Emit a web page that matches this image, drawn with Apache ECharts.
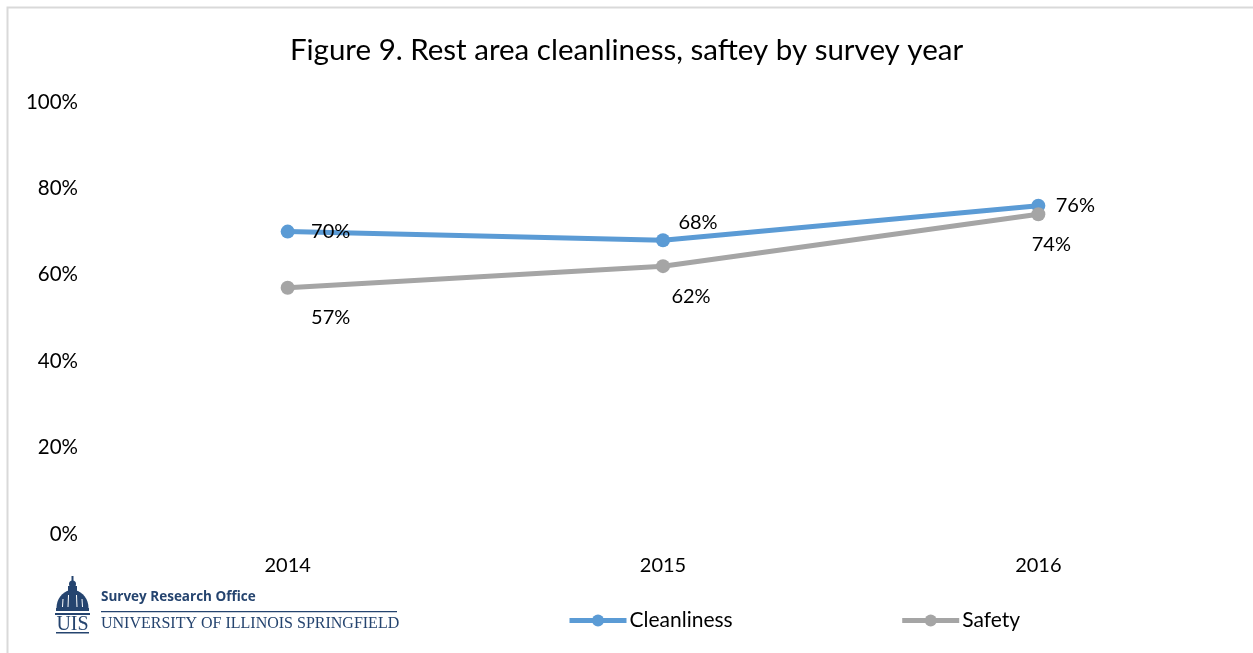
<!DOCTYPE html>
<html>
<head>
<meta charset="utf-8">
<script src="https://cdn.jsdelivr.net/npm/echarts@6/dist/echarts.min.js"></script>
<style>
  html, body { margin: 0; padding: 0; background: #fff; }
  #chart { width: 1253px; height: 653px; }
</style>
</head>
<body>
<div id="chart"></div>
<script>
// Survey years and share of respondents rating each aspect positively (%)
const years = ['2014', '2015', '2016'];
const cleanliness = [70, 68, 76];
const safety = [57, 62, 74];
const yTicks = [0, 20, 40, 60, 80, 100];

// Label placement relative to each marker: [dx, dy]
const cleanLabelOffset = [[43, 0], [35, -18], [37, 0]];
const safetyLabelOffset = [[43, 30], [28, 30], [13, 30]];

const FONT = 'Lato, "Open Sans", sans-serif';
const BLUE = '#5B9BD5';
const GRAY = '#A5A5A5';
const NAVY = '#25446f';

function withLabels(values, offsets) {
  return values.map((v, i) => ({
    value: v,
    label: { offset: offsets[i] }
  }));
}

function lineSeries(name, values, offsets, color) {
  return {
    name: name,
    type: 'line',
    data: withLabels(values, offsets),
    symbol: 'circle',
    symbolSize: 14,
    lineStyle: { color: color, width: 5 },
    itemStyle: { color: color },
    label: {
      show: true,
      position: 'inside',
      formatter: p => p.value + '%',
      color: '#000',
      fontFamily: FONT,
      fontSize: 20
    },
    animation: false
  };
}

// Dome outline for the office logo (half ellipse)
function domePoints(cx, baseY, rx, ry) {
  const pts = [];
  for (let a = 0; a <= 180; a += 10) {
    const t = a * Math.PI / 180;
    pts.push([cx - rx * Math.cos(t), baseY - ry * Math.sin(t)]);
  }
  return pts;
}

const chart = echarts.init(document.getElementById('chart'));
chart.setOption({
  backgroundColor: '#fff',
  title: {
    text: 'Figure 9. Rest area cleanliness, saftey by survey year',
    left: 'center',
    top: 30,
    textStyle: { fontFamily: FONT, fontSize: 29.5, fontWeight: 'normal', color: '#000' }
  },
  legend: {
    bottom: 17,
    left: 562,
    itemGap: 167,
    itemWidth: 57,
    itemHeight: 15,
    lineStyle: { width: 5 },
    textStyle: { fontFamily: FONT, fontSize: 21, color: '#000', padding: [0, 0, 0, -2] },
    data: ['Cleanliness', 'Safety']
  },
  grid: { left: 100, right: 27, top: 102, bottom: 119 },
  xAxis: {
    type: 'category',
    data: years,
    boundaryGap: true,
    axisLine: { show: false },
    axisTick: { show: false },
    axisLabel: { fontFamily: FONT, fontSize: 20, color: '#000', margin: 22 }
  },
  yAxis: {
    type: 'value',
    min: yTicks[0],
    max: yTicks[yTicks.length - 1],
    interval: yTicks[1] - yTicks[0],
    splitLine: { show: false },
    axisLine: { show: false },
    axisTick: { show: false },
    axisLabel: {
      fontFamily: FONT, fontSize: 20.5, color: '#000', margin: 22,
      formatter: v => v + '%'
    }
  },
  series: [
    lineSeries('Cleanliness', cleanliness, cleanLabelOffset, BLUE),
    lineSeries('Safety', safety, safetyLabelOffset, GRAY)
  ],
  graphic: [
    // chart frame
    {
      type: 'rect', silent: true, z: -1,
      shape: { x: 7.5, y: 7.5, width: 1260, height: 660 },
      style: { fill: 'none', stroke: '#d9d9d9', lineWidth: 2 }
    },
    // Survey Research Office logo: dome
    {
      type: 'group', x: 55, y: 576, silent: true,
      children: [
        { type: 'rect', shape: { x: 16.5, y: 0, width: 2, height: 6 }, style: { fill: NAVY } },
        { type: 'circle', shape: { cx: 17.5, cy: 8, r: 3.5 }, style: { fill: NAVY } },
        { type: 'rect', shape: { x: 13, y: 10, width: 9, height: 6 }, style: { fill: NAVY } },
        { type: 'polygon', shape: { points: domePoints(17.5, 32, 16, 18) }, style: { fill: NAVY } },
        { type: 'rect', shape: { x: 1, y: 32, width: 33, height: 3 }, style: { fill: NAVY } },
        { type: 'rect', shape: { x: 0, y: 37, width: 35, height: 2 }, style: { fill: NAVY } },
        { type: 'line', shape: { x1: 8, y1: 23, x2: 7.5, y2: 31 }, style: { stroke: '#fff', lineWidth: 1 } },
        { type: 'line', shape: { x1: 13.5, y1: 19, x2: 13, y2: 31 }, style: { stroke: '#fff', lineWidth: 1 } },
        { type: 'line', shape: { x1: 21.5, y1: 19, x2: 22, y2: 31 }, style: { stroke: '#fff', lineWidth: 1 } },
        { type: 'line', shape: { x1: 27, y1: 23, x2: 27.5, y2: 31 }, style: { stroke: '#fff', lineWidth: 1 } },
        {
          type: 'text', x: 17.5, y: 39,
          style: {
            text: 'UIS', fill: NAVY, align: 'center', verticalAlign: 'top',
            font: '20px "Liberation Serif", "DejaVu Serif", serif'
          }
        },
        { type: 'rect', shape: { x: 1, y: 56, width: 33, height: 1.5 }, style: { fill: NAVY } }
      ]
    },
    {
      type: 'text', x: 101, y: 590, silent: true,
      style: {
        text: 'Survey Research Office', fill: NAVY,
        font: 'bold 13.5px "Open Sans", "Noto Sans", sans-serif'
      }
    },
    {
      type: 'rect', silent: true,
      shape: { x: 101, y: 611, width: 296, height: 1.2 },
      style: { fill: NAVY }
    },
    {
      type: 'text', x: 101, y: 616, silent: true,
      style: {
        text: 'UNIVERSITY OF ILLINOIS SPRINGFIELD', fill: NAVY,
        font: '16px "Liberation Serif", "DejaVu Serif", serif'
      }
    }
  ]
});
</script>
</body>
</html>
